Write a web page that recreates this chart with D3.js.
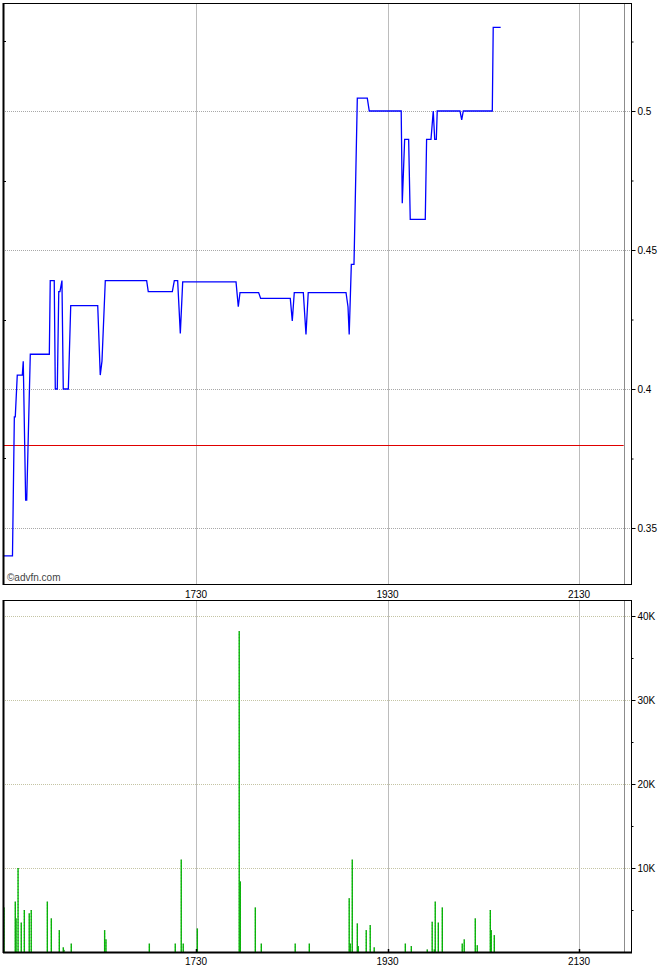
<!DOCTYPE html>
<html>
<head>
<meta charset="utf-8">
<script src="https://cdn.jsdelivr.net/npm/d3@7/dist/d3.min.js"></script>
<style>
  html, body { margin: 0; padding: 0; background: #fff; }
  svg { display: block; }
  text { font-family: "Liberation Sans", Arial, Helvetica, sans-serif; }
</style>
</head>
<body>
<svg id="chart" width="670" height="970"></svg>
<script>
// ---------------- DATA ----------------
const priceTimes = ["15:29:00","15:35:00","15:36:10","15:36:45","15:38:00","15:41:10","15:41:45","15:43:15","15:43:55","15:46:10",
  "15:58:05","15:58:40","16:01:10","16:01:50","16:03:05","16:04:00","16:04:45","16:06:00","16:06:50","16:10:00",
  "16:11:30","16:28:25","16:30:00","16:31:05","16:33:10","16:59:05","17:00:05","17:15:10","17:16:25","17:18:30",
  "17:20:10","17:21:40","17:55:05","17:56:30","17:57:35","18:09:15","18:10:30","18:29:05","18:30:20","18:31:35",
  "18:37:15","18:38:55","18:40:20","19:04:00","19:05:15","19:06:00","19:07:20","19:09:00","19:11:05","19:17:20",
  "19:18:35","19:38:35","19:39:15","19:40:45","19:43:15","19:44:15","19:53:40","19:54:30","19:57:15","19:58:40",
  "19:59:35","20:00:35","20:01:10","20:15:25","20:16:30","20:17:30","20:35:40","20:36:15","20:40:55"];
const priceValues = [0.34,0.34,0.39,0.39,0.405,0.405,0.41,0.36,0.36,0.4125,
  0.4125,0.439,0.439,0.40,0.40,0.435,0.435,0.439,0.40,0.40,
  0.43,0.43,0.405,0.41,0.439,0.439,0.435,0.435,0.439,0.439,
  0.42,0.4385,0.4385,0.4296,0.4347,0.4347,0.4326,0.4326,0.4245,0.4347,
  0.4347,0.4196,0.4347,0.4347,0.4296,0.4196,0.4448,0.4448,0.5046,0.5046,
  0.50,0.50,0.4668,0.4898,0.4898,0.461,0.461,0.4898,0.4898,0.50,
  0.4898,0.4898,0.50,0.50,0.4968,0.50,0.50,0.5301,0.5301];

const volumeTimes = ["15:29:40","15:36:45","15:37:15","15:38:30","15:40:30","15:42:25","15:45:30","15:46:45","15:56:50","15:59:20",
  "16:04:20","16:06:50","16:07:15","16:11:50","16:32:45","16:33:35","17:00:45","17:17:00","17:20:45","17:22:00",
  "17:30:50","17:57:05","17:57:45","18:07:10","18:10:55","18:32:10","18:41:00","19:06:00","19:06:40","19:07:55",
  "19:11:05","19:11:40","19:16:40","19:19:10","19:21:40","19:41:10","19:44:55","19:54:55","19:58:00","19:59:20",
  "19:59:55","20:01:50","20:04:20","20:16:50","20:18:05","20:25:00","20:26:15","20:34:25","20:35:00","20:36:55"];
const volumeValues = [5300,6000,4000,10000,3500,5000,4600,5000,6000,4000,
  2600,550,250,1000,2600,1500,1000,1000,11000,1000,
  2800,38200,8400,5300,1000,1000,1000,6400,1000,11000,
  3400,700,2600,3200,550,1000,700,300,3600,300,
  6000,3500,5300,1000,1500,4000,800,5000,2600,2000];

const priceTicks = [0.35, 0.4, 0.45, 0.5];
const priceTickLabels = ["0.35", "0.4", "0.45", "0.5"];
const priceMinorTicks = [0.375, 0.425, 0.475, 0.525];
const volumeTicks = [10000, 20000, 30000, 40000];
const volumeTickLabels = ["10K", "20K", "30K", "40K"];
const volumeMinorTicks = [5000, 15000, 25000, 35000];
const timeTicks = ["17:30", "19:30", "21:30"];
const timeTickLabels = ["1730", "1930", "2130"];
const referencePrice = 0.38;
const sessionEnd = "21:58";

// ---------------- HELPERS ----------------
function toMin(s) {
  const p = s.split(":").map(Number);
  return p[0] * 60 + p[1] + (p[2] || 0) / 60;
}

const svg = d3.select("#chart");

const L = 3, R = 632;
const top1 = 3, bot1 = 585;
const top2 = 600, bot2 = 952;

const x = d3.scaleLinear().domain([toMin("17:30"), toMin("21:30")]).range([196, 579]);
const yP = d3.scaleLinear().domain([0.35, 0.5]).range([528, 111]);
const yV = d3.scaleLinear().domain([0, 40000]).range([bot2, 616]);

const priceData = priceTimes.map((t, i) => ({ t: toMin(t), p: priceValues[i] }));
const volData = volumeTimes.map((t, i) => ({ t: toMin(t), v: volumeValues[i] }));
const xEnd = x(toMin(sessionEnd));

// ---------------- PRICE PANEL ----------------
const g1 = svg.append("g");
g1.append("rect").attr("x", L).attr("y", top1).attr("width", R - L).attr("height", bot1 - top1)
  .attr("fill", "#fff");

g1.selectAll("line.hg").data(priceTicks).enter().append("line")
  .attr("x1", L).attr("x2", R).attr("y1", d => Math.round(yP(d)) + 0.5).attr("y2", d => Math.round(yP(d)) + 0.5)
  .attr("stroke", "#a8a8a8").attr("stroke-width", 1).attr("stroke-dasharray", "1,1");
g1.selectAll("line.vg").data(timeTicks).enter().append("line")
  .attr("x1", d => Math.round(x(toMin(d))) + 0.5).attr("x2", d => Math.round(x(toMin(d))) + 0.5)
  .attr("y1", top1).attr("y2", bot1)
  .attr("stroke", "#bcbcbc").attr("stroke-width", 1);
g1.append("line").attr("x1", Math.round(xEnd) + 0.5).attr("x2", Math.round(xEnd) + 0.5)
  .attr("y1", top1).attr("y2", bot1).attr("stroke", "#8c8c8c").attr("stroke-width", 1);

g1.append("line").attr("x1", L).attr("x2", xEnd)
  .attr("y1", Math.round(yP(referencePrice)) + 0.5).attr("y2", Math.round(yP(referencePrice)) + 0.5)
  .attr("stroke", "#e00000").attr("stroke-width", 1);

const line = d3.line().x(d => x(d.t)).y(d => yP(d.p));
g1.append("path").datum(priceData).attr("d", line)
  .attr("fill", "none").attr("stroke", "#0000ff").attr("stroke-width", 1.3)
  .attr("stroke-linejoin", "miter");

g1.append("rect").attr("x", L + 0.5).attr("y", top1 + 0.5).attr("width", R - L - 1).attr("height", bot1 - top1 - 1)
  .attr("fill", "none").attr("stroke", "#000").attr("stroke-width", 1);
g1.append("line").attr("x1", L + 0.5).attr("x2", L + 0.5).attr("y1", top1).attr("y2", bot1)
  .attr("stroke", "#000").attr("stroke-width", 2);

const axP = d3.axisRight(yP).tickValues(priceTicks).tickFormat((d, i) => priceTickLabels[i]).tickSize(4).tickPadding(2);
const gAxP = g1.append("g").attr("transform", `translate(${R - 0.5},0)`).call(axP);
gAxP.select(".domain").remove();
gAxP.selectAll("text").attr("font-size", "10px").attr("fill", "#000")
  .attr("font-family", "'Liberation Sans', Arial, sans-serif");
const axPm = d3.axisRight(yP).tickValues(priceMinorTicks).tickFormat("").tickSize(2);
const gAxPm = g1.append("g").attr("transform", `translate(${R - 0.5},0)`).call(axPm);
gAxPm.select(".domain").remove();
g1.selectAll("line.lt").data(priceMinorTicks).enter().append("line")
  .attr("x1", L).attr("x2", L + 3)
  .attr("y1", d => Math.round(yP(d)) + 0.5).attr("y2", d => Math.round(yP(d)) + 0.5)
  .attr("stroke", "#000");

g1.append("text").attr("x", 7).attr("y", 581).attr("font-size", "10px").attr("fill", "#444")
  .text("©advfn.com");

svg.selectAll("text.tl1").data(timeTicks).enter().append("text")
  .attr("x", d => x(toMin(d))).attr("y", 598).attr("text-anchor", "middle")
  .attr("font-size", "10px").attr("fill", "#000")
  .text((d, i) => timeTickLabels[i]);

// ---------------- VOLUME PANEL ----------------
const g2 = svg.append("g");
g2.append("rect").attr("x", L).attr("y", top2).attr("width", R - L).attr("height", bot2 - top2)
  .attr("fill", "#fff");
g2.selectAll("line.hg").data(volumeTicks).enter().append("line")
  .attr("x1", L).attr("x2", R).attr("y1", d => Math.round(yV(d)) + 0.5).attr("y2", d => Math.round(yV(d)) + 0.5)
  .attr("stroke", "#c4c4a4").attr("stroke-width", 1).attr("stroke-dasharray", "1,1");
g2.selectAll("line.vg").data(timeTicks).enter().append("line")
  .attr("x1", d => Math.round(x(toMin(d))) + 0.5).attr("x2", d => Math.round(x(toMin(d))) + 0.5)
  .attr("y1", top2).attr("y2", bot2)
  .attr("stroke", "#bcbcbc").attr("stroke-width", 1);
g2.append("line").attr("x1", Math.round(xEnd) + 0.5).attr("x2", Math.round(xEnd) + 0.5)
  .attr("y1", top2).attr("y2", bot2).attr("stroke", "#8c8c8c").attr("stroke-width", 1);

g2.selectAll("rect.bar").data(volData).enter().append("rect")
  .attr("x", d => x(d.t) - 0.7).attr("width", 1.4)
  .attr("y", d => yV(d.v)).attr("height", d => yV(0) - yV(d.v))
  .attr("fill", "#00c400");
g2.selectAll("line.bard").data(volData).enter().append("line")
  .attr("x1", d => x(d.t)).attr("x2", d => x(d.t))
  .attr("y1", d => yV(d.v)).attr("y2", yV(0))
  .attr("stroke", "#405040").attr("stroke-width", 0.8).attr("stroke-dasharray", "1,2").attr("opacity", 0.75);

g2.append("rect").attr("x", L + 0.5).attr("y", top2 + 0.5).attr("width", R - L - 1).attr("height", bot2 - top2)
  .attr("fill", "none").attr("stroke", "#000").attr("stroke-width", 1);
g2.append("line").attr("x1", L + 0.5).attr("x2", L + 0.5).attr("y1", top2).attr("y2", bot2 + 1)
  .attr("stroke", "#000").attr("stroke-width", 2);
g2.append("line").attr("x1", L).attr("x2", R).attr("y1", bot2 + 0.5).attr("y2", bot2 + 0.5)
  .attr("stroke", "#000").attr("stroke-width", 2);
g2.selectAll("line.bt").data(timeTicks).enter().append("line")
  .attr("x1", d => Math.round(x(toMin(d))) + 0.5).attr("x2", d => Math.round(x(toMin(d))) + 0.5)
  .attr("y1", bot2 - 3).attr("y2", bot2).attr("stroke", "#000").attr("stroke-width", 1.5);

const axV = d3.axisRight(yV).tickValues(volumeTicks).tickFormat((d, i) => volumeTickLabels[i]).tickSize(4).tickPadding(2);
const gAxV = g2.append("g").attr("transform", `translate(${R - 0.5},0)`).call(axV);
gAxV.select(".domain").remove();
gAxV.selectAll("text").attr("font-size", "10px").attr("fill", "#000")
  .attr("font-family", "'Liberation Sans', Arial, sans-serif");
const axVm = d3.axisRight(yV).tickValues(volumeMinorTicks).tickFormat("").tickSize(2);
const gAxVm = g2.append("g").attr("transform", `translate(${R - 0.5},0)`).call(axVm);
gAxVm.select(".domain").remove();

svg.selectAll("text.tl2").data(timeTicks).enter().append("text")
  .attr("x", d => x(toMin(d))).attr("y", 965).attr("text-anchor", "middle")
  .attr("font-size", "10px").attr("fill", "#000")
  .text((d, i) => timeTickLabels[i]);
</script>
</body>
</html>
